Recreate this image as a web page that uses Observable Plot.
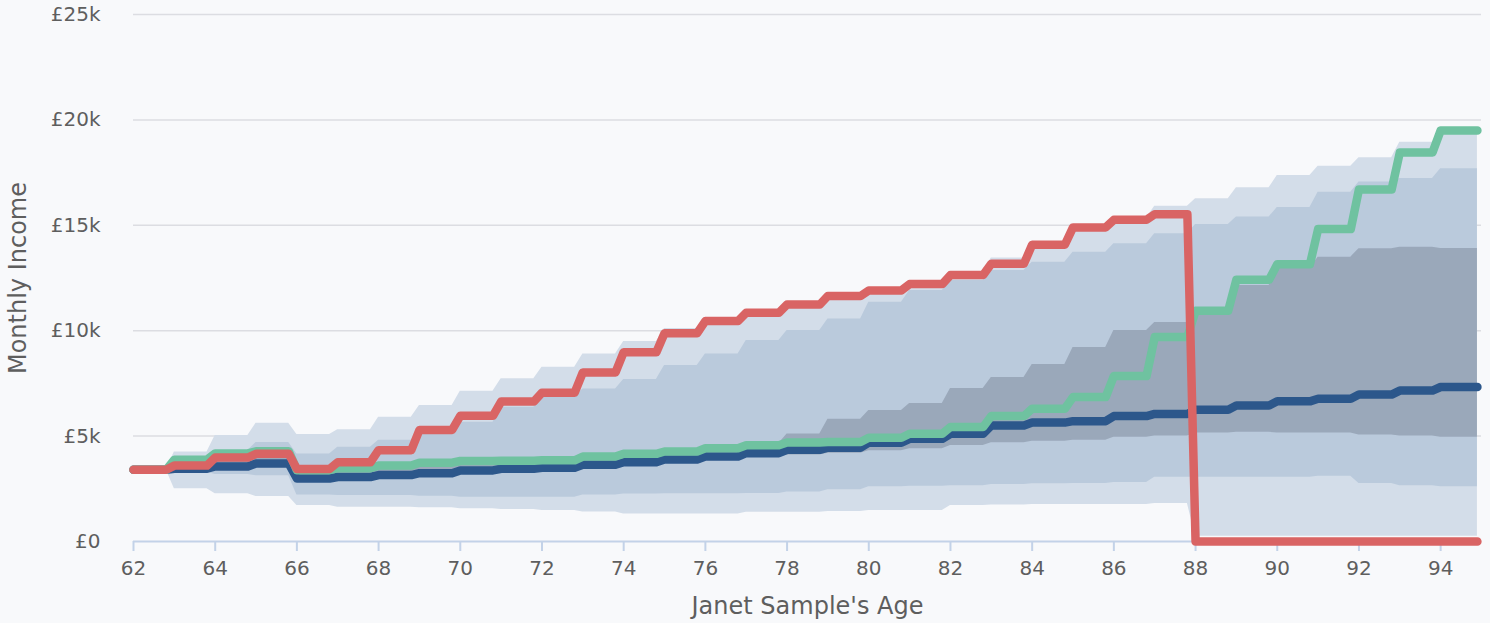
<!DOCTYPE html>
<html>
<head>
<meta charset="utf-8">
<script src="https://cdn.jsdelivr.net/npm/d3@7"></script>
<script src="https://cdn.jsdelivr.net/npm/@observablehq/plot@0.6"></script>
<style>
  html, body { margin: 0; padding: 0; background: #f8f9fb; }
  #chart { width: 1490px; height: 623px; }
</style>
</head>
<body>
<div id="chart"></div>
<script>
// Ages (one value per year of age)
const ages = [62,63,64,65,66,67,68,69,70,71,72,73,74,75,76,77,78,79,80,81,82,83,84,85,86,87,88,89,90,91,92,93,94];
const xTicks = [62,64,66,68,70,72,74,76,78,80,82,84,86,88,90,92,94];
const yTicks = [0,5000,10000,15000,20000,25000];

// Line series (monthly income, £)
const medianLine = [3400,3450,3560,3700,2990,3060,3150,3240,3370,3450,3500,3640,3760,3890,4030,4190,4350,4450,4690,4870,5110,5500,5640,5710,5950,6050,6250,6450,6650,6770,6970,7160,7330];
const greenLine  = [3400,3880,4180,4280,3380,3480,3600,3740,3820,3830,3850,4030,4160,4270,4420,4570,4700,4720,4920,5110,5430,5950,6300,6850,7850,9700,10950,12420,13150,14820,16700,18450,19500];
const redLine    = [3400,3600,3980,4160,3440,3760,4330,5290,5960,6640,7060,8020,8980,9880,10460,10850,11240,11650,11910,12210,12640,13180,14080,14900,15260,15520,0,0,0,0,0,0,0];

// Percentile bands
const outerLo = [3400,2500,2260,2130,1710,1630,1630,1600,1550,1520,1470,1400,1310,1310,1310,1390,1390,1420,1470,1470,1710,1730,1750,1750,1750,1800,250,250,250,250,250,250,250];
const outerHi = [3400,4240,5030,5610,5080,5300,5900,6450,7130,7720,8270,8900,9490,10100,10550,10950,11350,11750,12050,12350,12800,13450,14100,14950,15350,15900,16260,16780,17360,17800,18200,18940,19450];
const midLo   = [3400,3280,3180,3120,2200,2180,2180,2150,2100,2100,2100,2200,2250,2260,2260,2280,2350,2450,2600,2620,2650,2700,2740,2750,2800,3050,3050,3050,3050,3100,2750,2650,2600];
const midHi   = [3400,3900,4320,4700,4150,4470,4800,5270,5660,6370,6850,7240,7680,8350,8900,9540,10010,10560,11350,11910,12380,12860,13250,13720,14120,14600,15040,15390,15850,16570,17050,17220,17680];
const innerLo = [3400,3350,3450,3600,2850,2950,3050,3150,3250,3300,3350,3480,3600,3720,3850,3980,4100,4190,4300,4400,4550,4680,4750,4800,4950,5000,5150,5180,5150,5150,5050,5000,4950];
const innerHi = [3400,3700,3900,4100,3350,3450,3580,3700,3820,3880,3920,4080,4200,4350,4500,4650,5100,5800,6210,6550,7260,7780,8400,9200,10010,10390,11100,12150,12950,13490,13890,13960,13900];

const xMax = 95;
const lastAge = 94.9;   // final monthly data point
const last = ages.length - 1;
// each yearly value holds for most of the year, then ramps to the next
function stepLine(vals) {
  return ages.flatMap((a, i) => [
    {x: a, y: vals[i]},
    {x: i === last ? lastAge : a + 0.8, y: vals[i]}
  ]);
}
function stepBand(lo, hi) {
  return ages.flatMap((a, i) => [
    {x: a, lo: lo[i], hi: hi[i]},
    {x: i === last ? lastAge : a + 0.8, lo: lo[i], hi: hi[i]}
  ]);
}

const textColor = "#5e5e5e";
const fmt = d => d === 0 ? "£0" : "£" + (d / 1000) + "k";

const chart = Plot.plot({
  width: 1490,
  height: 623,
  marginLeft: 133,
  marginRight: 9,
  marginTop: 14,
  marginBottom: 82,
  style: {background: "#f8f9fb", fontFamily: "DejaVu Sans", fontSize: "20px", color: textColor},
  x: {domain: [62, xMax]},
  y: {domain: [0, 25000]},
  marks: [
    Plot.gridY(yTicks.filter(d => d > 0), {stroke: "#dcdde2", strokeOpacity: 1, strokeWidth: 1.5}),
    Plot.areaY(stepBand(outerLo, outerHi), {x: "x", y1: "lo", y2: "hi", fill: "#d3dde9"}),
    Plot.areaY(stepBand(midLo, midHi), {x: "x", y1: "lo", y2: "hi", fill: "#bacadc"}),
    Plot.areaY(stepBand(innerLo, innerHi), {x: "x", y1: "lo", y2: "hi", fill: "#9aa8ba"}),
    Plot.ruleY([0], {stroke: "#c3d2e8", strokeWidth: 2}),
    Plot.axisX({ticks: xTicks, tickSize: 10, tickPadding: 9, stroke: "#c3d2e8", strokeWidth: 2, fill: textColor, label: null, tickFormat: d => String(d)}),
    Plot.axisY({ticks: yTicks, tickSize: 0, tickPadding: 33, fill: textColor, label: null, tickFormat: fmt}),
    Plot.line(stepLine(medianLine), {x: "x", y: "y", stroke: "#2c578b", strokeWidth: 8.5, strokeLinecap: "round", strokeLinejoin: "round"}),
    Plot.line(stepLine(greenLine), {x: "x", y: "y", stroke: "#6fc2a0", strokeWidth: 8.5, strokeLinecap: "round", strokeLinejoin: "round"}),
    Plot.line(stepLine(redLine), {x: "x", y: "y", stroke: "#d96464", strokeWidth: 8.5, strokeLinecap: "round", strokeLinejoin: "round"}),
    Plot.text(["Monthly Income"], {text: d => d, frameAnchor: "left", textAnchor: "middle", dx: -115, rotate: -90, fontSize: 24, fill: textColor}),
    Plot.text(["Janet Sample's Age"], {text: d => d, frameAnchor: "bottom", textAnchor: "middle", dy: 72, fontSize: 24, fill: textColor})
  ]
});
document.getElementById("chart").appendChild(chart);
</script>
</body>
</html>
